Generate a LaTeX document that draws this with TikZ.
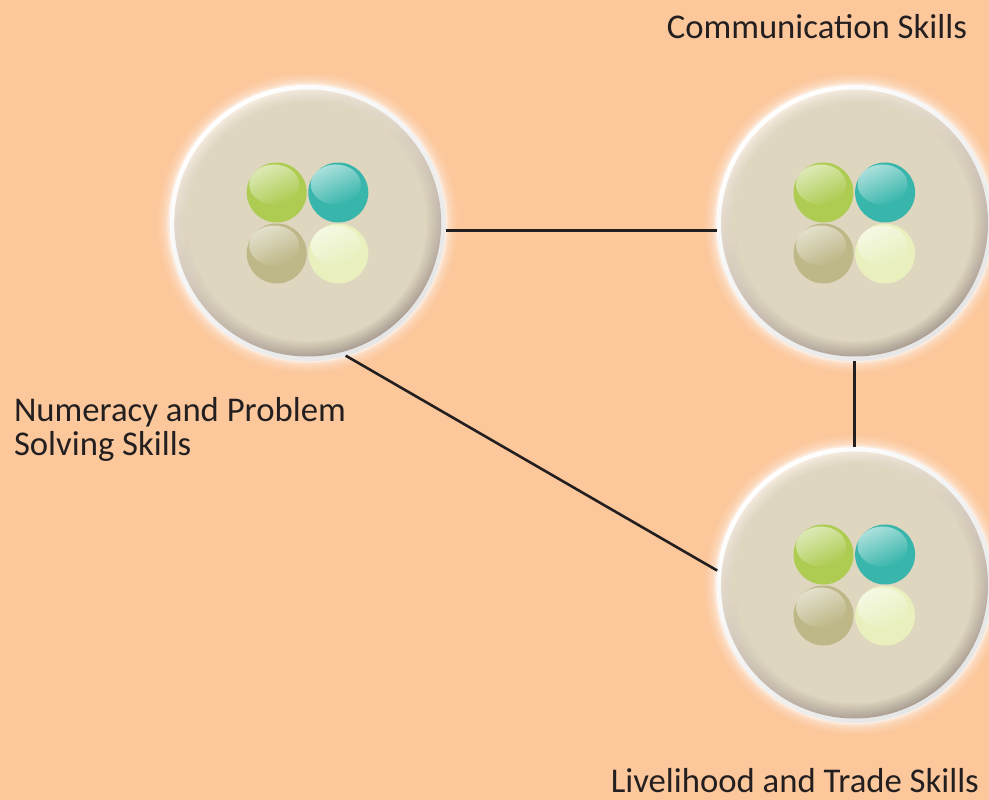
\documentclass[tikz,border=0pt]{standalone}
\usepackage{fontspec}
\setmainfont{Carlito}
\usetikzlibrary{fadings}
\definecolor{bgpeach}{RGB}{252,200,155}
\definecolor{hubbase}{RGB}{222,214,191}
\definecolor{hubhi}{RGB}{247,238,226}
\definecolor{hublo}{RGB}{172,160,148}
\definecolor{ballgreen}{RGB}{174,204,82}
\definecolor{ballteal}{RGB}{56,182,172}
\definecolor{balltan}{RGB}{190,183,135}
\definecolor{ballcream}{RGB}{233,240,190}
\definecolor{inkline}{RGB}{35,31,32}
\tikzfading[name=glossfade,top color=transparent!42,middle color=transparent!90,bottom color=transparent!100]
\tikzset{
  hubring/.style={circle,inner sep=0pt,outer sep=0pt,minimum size=276pt,
    shading=axis,top color=white,middle color=white,bottom color=white!90!black,shading angle=40},
  hubface/.style={circle,inner sep=0pt,outer sep=0pt,minimum size=267pt,
    shading=axis,top color=hubhi,middle color=hubbase,bottom color=hublo,shading angle=28},
  ballbase/.style={circle,inner sep=0pt,outer sep=0pt,minimum size=60pt,fill=#1},
  linkline/.style={draw=inkline,line width=2.6pt},
  skilllabel/.style={inner sep=0pt,outer sep=0pt,text=inkline,font=\fontsize{34.7}{34.5}\selectfont,align=left}
}
\newcommand{\glossball}[4]{% name, x, y, colour
  \node[ballbase=#4] (#1) at (#2,#3) {};
  \fill[white,path fading=glossfade,fading angle=30] (#2-2.5,#3-8) ellipse (25 and 20);
}
\newcommand{\skillhub}[3]{% name, x, y
  \foreach \gr/\go in {150/.05,148/.07,146/.09,144/.12,142/.16,140.5/.25,139.2/.35}{
    \fill[white,opacity=\go] (#2,#3) circle (\gr);
  }
  \node[hubring] (#1) at (#2,#3) {};
  \node[hubface] (#1f) at (#2,#3) {};
  \foreach \fr/\fo in {132.5/.1,131/.11,129.5/.125,128/.143,126.5/.167,125/.2,123.5/.25,122/.33,120.5/.5,119/1}{
    \fill[hubbase,opacity=\fo] (#2,#3-.6) circle (\fr);
  }
  \glossball{#1g}{#2-31}{#3-30.5}{ballgreen}
  \glossball{#1t}{#2+30.6}{#3-30.5}{ballteal}
  \glossball{#1n}{#2-31}{#3+30.5}{balltan}
  \glossball{#1c}{#2+30.6}{#3+30.5}{ballcream}
}
\begin{document}
\begin{tikzpicture}[x=1pt,y=-1pt]
  \fill[bgpeach] (0,0) rectangle (989,800);
  \useasboundingbox (0,0) rectangle (989,800);
  \skillhub{num}{307.7}{223}
  \skillhub{com}{854.5}{223}
  \skillhub{liv}{854.5}{585}
  \draw[linkline] (num.-3.9) -- (com.183.9);
  \draw[linkline] (com) -- (liv);
  \draw[linkline] (num.-74.9) -- (liv.174);
  \node[skilllabel,anchor=east] (comlabel) at (967,27) {Communication Skills};
  \node[skilllabel,anchor=west] (numlabel) at (14,429.5) {Numeracy and Problem\\Solving Skills};
  \node[skilllabel,anchor=east] (livlabel) at (979,781) {Livelihood and Trade Skills};
\end{tikzpicture}
\end{document}
